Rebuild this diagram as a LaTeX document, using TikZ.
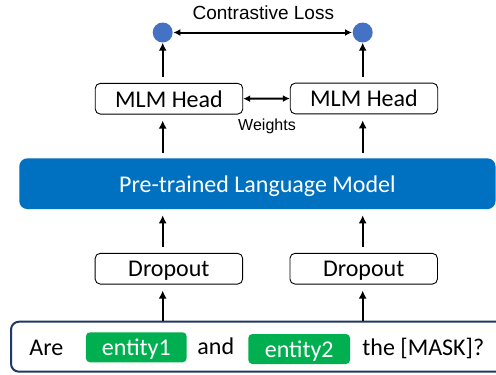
\documentclass[tikz,border=0pt]{standalone}
\usepackage{fontspec}
\setmainfont{Carlito}
\newfontfamily\arialf{Liberation Sans}
\usetikzlibrary{arrows.meta}
\definecolor{dotblue}{HTML}{4472C4}
\definecolor{plmblue}{HTML}{0070C0}
\definecolor{entgreen}{HTML}{00B050}
\definecolor{navyb}{HTML}{203864}
\begin{document}
\begin{tikzpicture}[x=1pt,y=-1pt,
  wbox/.style={draw=black, line width=0.9pt, rounded corners=5pt, fill=white, inner sep=0pt, text depth=0pt, minimum width=147.5pt, minimum height=30.7pt, font=\fontsize{24}{28}\selectfont},
  dot/.style={circle, fill=dotblue, minimum size=20pt, inner sep=0pt},
  arr/.style={line width=2.2pt, -{Latex[length=8pt,width=8pt]}},
  darr/.style={line width=2pt, {Latex[length=7pt,width=7pt]}-{Latex[length=7pt,width=7pt]}},
  ent/.style={fill=entgreen, rounded corners=4pt, inner sep=0pt, text depth=0pt, minimum height=30pt, text=white, font=\fontsize{24}{28}\selectfont},
  txt/.style={font=\fontsize{24}{28}\selectfont, inner sep=0pt, anchor=base},
  smalltxt/.style={inner sep=0pt, anchor=base}
]
\useasboundingbox (0,0) rectangle (496,375);
\fill[white] (0,0) rectangle (496,375);

% circles and loss
\node[dot] (c1) at (162.7,32.5) {};
\node[dot] (c2) at (362.7,32.5) {};
\node[smalltxt, font=\arialf\fontsize{19}{22}\selectfont] (loss) at (263.3,19) {Contrastive Loss};

% MLM heads
\node[wbox] (m1) at (169,98.7) {MLM Head};
\node[wbox] (m2) at (364,98.5) {MLM Head};
\node[smalltxt, font=\arialf\fontsize{16}{18}\selectfont] (w) at (267,130.5) {Weights};

% PLM
\node[fill=plmblue, rounded corners=8pt, inner sep=0pt, text depth=0pt, minimum width=476.2pt, minimum height=50.7pt, text=white, font=\fontsize{24}{28}\selectfont] (plm) at (257.4,183.7) {Pre-trained Language Model};

% Dropouts
\node[wbox] (d1) at (168.9,268.7) {Dropout};
\node[wbox] (d2) at (363.7,268.7) {Dropout};

% sentence
\node[draw=navyb, line width=2pt, rounded corners=8pt, inner sep=0pt, minimum width=499pt, minimum height=50pt] (s) at (260.5,346.7) {};
\node[ent, minimum width=100.7pt] (e1) at (136.3,347.3) {entity1};
\node[ent, minimum width=101.7pt] (e2) at (299.2,349) {entity2};
\node[txt] (are) at (46.3,355) {Are};
\node[txt] (and) at (215.8,354) {and};
\node[txt] (mask) at (423.3,355) {the [MASK]?};

% arrows
\draw[darr, shorten <=0.5pt, shorten >=0.5pt] (c1) -- (c2);
\draw[darr] (m1.east) -- (m2.west);
\draw[arr, shorten <=6pt] (m1.north -| c1) -- (c1);
\draw[arr, shorten <=6pt] (m2.north -| c2) -- (c2);
\draw[arr, shorten <=5pt, shorten >=6pt] (plm.north -| c1) -- (m1.south -| c1);
\draw[arr, shorten <=5pt, shorten >=6pt] (plm.north -| c2) -- (m2.south -| c2);
\draw[arr, shorten <=6pt, shorten >=6pt] (d1.north -| c1) -- (plm.south -| c1);
\draw[arr, shorten <=6pt, shorten >=6pt] (d2.north -| c2) -- (plm.south -| c2);
\draw[arr, shorten >=6pt] (s.north -| c1) -- (d1.south -| c1);
\draw[arr, shorten >=6pt] (s.north -| c2) -- (d2.south -| c2);
\end{tikzpicture}
\end{document}
